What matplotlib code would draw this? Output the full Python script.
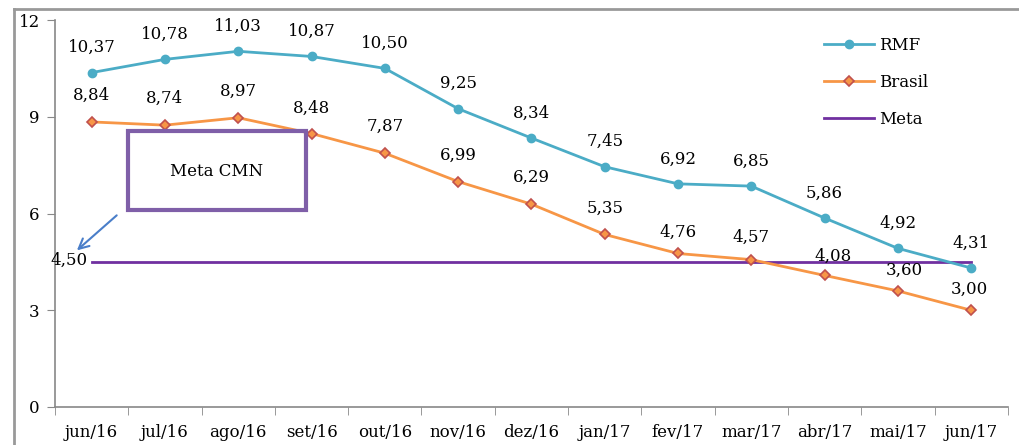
import numpy as np
import matplotlib.pyplot as plt
from matplotlib.lines import Line2D
from matplotlib.patches import Rectangle

plt.rcParams['font.family'] = ['DejaVu Serif']

months = ['jun/16', 'jul/16', 'ago/16', 'set/16', 'out/16', 'nov/16', 'dez/16',
          'jan/17', 'fev/17', 'mar/17', 'abr/17', 'mai/17', 'jun/17']
rmf = [10.37, 10.78, 11.03, 10.87, 10.50, 9.25, 8.34, 7.45, 6.92, 6.85, 5.86, 4.92, 4.31]
brasil = [8.84, 8.74, 8.97, 8.48, 7.87, 6.99, 6.29, 5.35, 4.76, 4.57, 4.08, 3.60, 3.00]
meta = 4.50
yticks = [0, 3, 6, 9, 12]

C_RMF = '#4BACC6'
C_BR = '#F79646'
C_BR_EDGE = '#C0504D'
C_META = '#7030A0'
FS = 12


def fmt(v):
    return f'{v:.2f}'.replace('.', ',')


fig = plt.figure(figsize=(10.19, 4.45), dpi=100)
ax = fig.add_axes([0.054, 0.0854, 0.935, 0.8696])

x = np.arange(len(months))

ax.plot(x, rmf, color=C_RMF, lw=2, marker='o', ms=6, label='RMF', zorder=3)
ax.plot(x, brasil, color=C_BR, lw=2, marker='D', ms=5, mfc=C_BR,
        mec=C_BR_EDGE, mew=1.2, label='Brasil', zorder=3)
ax.plot([x[0], x[-1]], [meta, meta], color=C_META, lw=2, label='Meta', zorder=2)

# value labels
for xi, v in zip(x, rmf):
    ax.annotate(fmt(v), (xi, v), xytext=(0, 18), textcoords='offset points',
                ha='center', va='center', fontsize=FS)
br_dx = [0, 0, 0, 0, 0, 0, 0, 0, 0, 0, 6, 5, -1]
br_dy = [19, 19, 19, 18, 19, 19, 19, 19, 15, 16, 14, 15, 15]
for xi, v, dx, dy in zip(x, brasil, br_dx, br_dy):
    ax.annotate(fmt(v), (xi, v), xytext=(dx, dy), textcoords='offset points',
                ha='center', va='center', fontsize=FS)
ax.annotate(fmt(meta), (x[0], meta), xytext=(-3, 1), textcoords='offset points',
            ha='right', va='center', fontsize=FS)

# Meta CMN box and arrow
ax.add_patch(Rectangle((0.49, 6.1), 2.44, 2.45, fill=False, ec='#7F5FA8',
                       lw=3, zorder=4))
ax.text(1.71, 7.3, 'Meta CMN', ha='center', va='center', fontsize=FS)
ax.annotate('', xy=(-0.23, 4.8), xytext=(0.37, 6.0),
            arrowprops=dict(arrowstyle='->', color='#4A7EC9', lw=1.5,
                            mutation_scale=18))

ax.set_xlim(-0.5, len(months) - 0.5)
ax.set_ylim(0, 12)
ax.set_yticks(yticks)
ax.set_xticks(x)
ax.set_xticklabels(months)
ax.set_xticks(np.arange(-0.5, len(months), 1), minor=True)
ax.tick_params(axis='x', which='major', length=0, pad=12, labelsize=FS)
ax.tick_params(axis='x', which='minor', length=6, color='#888888')
ax.tick_params(axis='y', length=6, color='#888888', labelsize=FS, pad=5)

for s in ['top', 'right']:
    ax.spines[s].set_visible(False)
for s in ['left', 'bottom']:
    ax.spines[s].set_color('#888888')
    ax.spines[s].set_linewidth(1.2)

ax.legend(loc='upper right', bbox_to_anchor=(0.932, 0.995), frameon=False,
          fontsize=FS, labelspacing=1.2, handlelength=3, handletextpad=0.3)

# outer frame
fig.add_artist(Line2D([14 / 1019, 1.0], [1 - 9 / 445] * 2, color='#999999', lw=2))
fig.add_artist(Line2D([14 / 1019] * 2, [0, 1 - 9 / 445], color='#999999', lw=2))

fig.savefig('out.png', dpi=100)
